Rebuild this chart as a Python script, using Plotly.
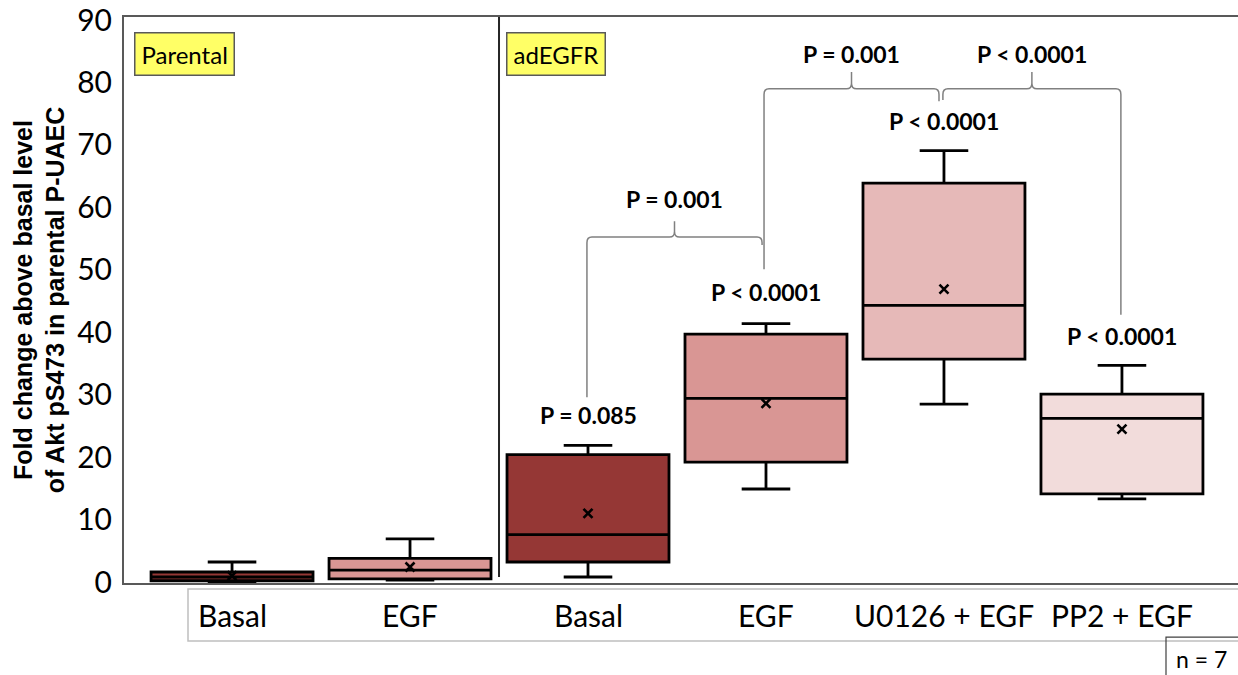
import plotly.graph_objects as go

# ---------------- data ----------------
categories = ["Basal", "EGF", "Basal", "EGF", "U0126 + EGF", "PP2 + EGF"]
positions = [0, 1, 2, 3, 4, 5]
lower_whisker = [0.0, 0.3, 0.8, 14.9, 28.5, 13.3]
q1_vals = [0.2, 0.5, 3.2, 19.2, 35.7, 14.1]
median_vals = [0.8, 1.9, 7.6, 29.4, 44.3, 26.2]
q3_vals = [1.6, 3.8, 20.4, 39.7, 63.9, 30.1]
upper_whisker = [3.2, 6.9, 21.9, 41.4, 69.1, 34.7]
mean_vals = [1.0, 2.4, 11.0, 28.6, 46.9, 24.5]
box_colors = ["#953735", "#d99694", "#953735", "#d99694", "#e6b9b8", "#f2dcdb"]

y_ticks = [0, 10, 20, 30, 40, 50, 60, 70, 80, 90]

# p-value labels above boxes: (x index, y value, text)
p_box_x = [2, 3, 4, 5]
p_box_y = [26.7, 46.4, 73.9, 39.4]
p_box_text = ["P = 0.085", "P < 0.0001", "P < 0.0001", "P < 0.0001"]

# comparison brackets
br_x0 = [1.994, 2.989, 3.994]
br_x1 = [2.978, 3.972, 4.994]
br_y = [55.25, 79.0, 79.0]
br_tick_top = [57.8, 81.7, 81.7]
br_left_bottom = [29.6, 50.1, 77.2]
br_right_bottom = [53.97, 77.0, 42.8]
br_text = ["P = 0.001", "P = 0.001", "P < 0.0001"]
br_text_y = [61.4, 84.6, 84.6]

group_divider = 1.5
group_labels = ["Parental", "adEGFR"]
n_label = "n = 7"

# ---------------- figure ----------------
fig = go.Figure()

for i, pos in enumerate(positions):
    fig.add_trace(go.Box(
        x=[pos], q1=[q1_vals[i]], median=[median_vals[i]], q3=[q3_vals[i]],
        lowerfence=[lower_whisker[i]], upperfence=[upper_whisker[i]],
        width=0.91, whiskerwidth=0.3,
        fillcolor=box_colors[i], line=dict(color="black", width=2.8),
        boxpoints=False, showlegend=False, hoverinfo="skip",
    ))

fig.add_trace(go.Scatter(
    x=positions, y=mean_vals, mode="markers",
    marker=dict(symbol="x-thin", size=9, line=dict(color="black", width=2.6)),
    showlegend=False, hoverinfo="skip",
))

shapes = []
# divider between groups
shapes.append(dict(type="line", xref="x", yref="y", x0=group_divider, x1=group_divider,
                   y0=0.8, y1=90.5, line=dict(color="#262626", width=2)))

rx, ry = 0.028, 0.9
for i in range(len(br_x0)):
    x0, x1, y = br_x0[i], br_x1[i], br_y[i]
    xt = (x0 + x1) / 2
    tt = br_tick_top[i]
    lb, rb = br_left_bottom[i], br_right_bottom[i]
    path = (f"M {x0},{lb} L {x0},{y - ry} Q {x0},{y} {x0 + rx},{y} "
            f"L {xt - rx},{y} Q {xt},{y} {xt},{y + ry} L {xt},{tt} "
            f"M {xt},{y + ry} Q {xt},{y} {xt + rx},{y} "
            f"L {x1 - rx},{y} Q {x1},{y} {x1},{y - ry} L {x1},{rb}")
    shapes.append(dict(type="path", xref="x", yref="y", path=path,
                       line=dict(color="#808080", width=1.5)))

# box around category labels
shapes.append(dict(type="rect", xref="paper", yref="paper",
                   x0=(188 - 124) / 1114, x1=1.01, y0=-0.1025, y1=-0.0106,
                   line=dict(color="#bfbfbf", width=1.5)))
# n = 7 box
shapes.append(dict(type="rect", xref="paper", yref="paper",
                   x0=(1166 - 124) / 1114, x1=1.01, y0=-0.17, y1=-0.0955,
                   line=dict(color="#404040", width=1.2)))

annotations = []
for i in range(len(p_box_x)):
    annotations.append(dict(x=p_box_x[i], y=p_box_y[i], xref="x", yref="y",
                            text=f"<b>{p_box_text[i]}</b>", showarrow=False,
                            font=dict(family="Lato", size=23, color="black")))
for i in range(len(br_x0)):
    annotations.append(dict(x=(br_x0[i] + br_x1[i]) / 2, y=br_text_y[i], xref="x", yref="y",
                            text=f"<b>{br_text[i]}</b>", showarrow=False,
                            font=dict(family="Lato", size=23, color="black")))

for i, pos in enumerate(positions):
    annotations.append(dict(x=pos, y=-0.0565, xref="x", yref="paper", yanchor="middle",
                            text=categories[i], showarrow=False,
                            font=dict(family="Lato", size=30, color="black")))

annotations.append(dict(x=(1201 - 124) / 1114, y=-0.135, xref="paper", yref="paper",
                        xanchor="center", yanchor="middle",
                        text=n_label, showarrow=False,
                        font=dict(family="Lato", size=23, color="black")))

label_x = [(134 - 124) / 1114, (506 - 124) / 1114]
for i, lab in enumerate(group_labels):
    annotations.append(dict(x=label_x[i], y=(583 - 32) / 566, xref="paper", yref="paper",
                            xanchor="left", yanchor="top", text=lab, showarrow=False,
                            bgcolor="#ffff66", bordercolor="#595959", borderwidth=1.5,
                            borderpad=6,
                            font=dict(family="Lato", size=24, color="black")))

fig.update_layout(
    width=1238, height=675,
    margin=dict(l=124, r=0, t=17, b=92),
    paper_bgcolor="white", plot_bgcolor="white",
    shapes=shapes, annotations=annotations,
    xaxis=dict(range=[-0.607, 5.652], showgrid=False, zeroline=False,
               showline=True, mirror=True, linecolor="#595959", linewidth=2,
               showticklabels=False, ticks=""),
    yaxis=dict(range=[-0.16, 90.5], showgrid=False, zeroline=False,
               showline=True, linecolor="#595959", linewidth=2,
               tickvals=y_ticks, ticks="", ticklabelstandoff=4,
               tickfont=dict(family="Lato", size=30, color="black"),
               title=dict(text="<b>Fold change above basal level<br>of Akt pS473 in parental P-UAEC</b>",
                          font=dict(family="Liberation Sans", size=25, color="black"),
                          standoff=5)),
)

fig.write_html("out.html", config={"displayModeBar": False},
               post_script="document.body.style.margin='0';")
